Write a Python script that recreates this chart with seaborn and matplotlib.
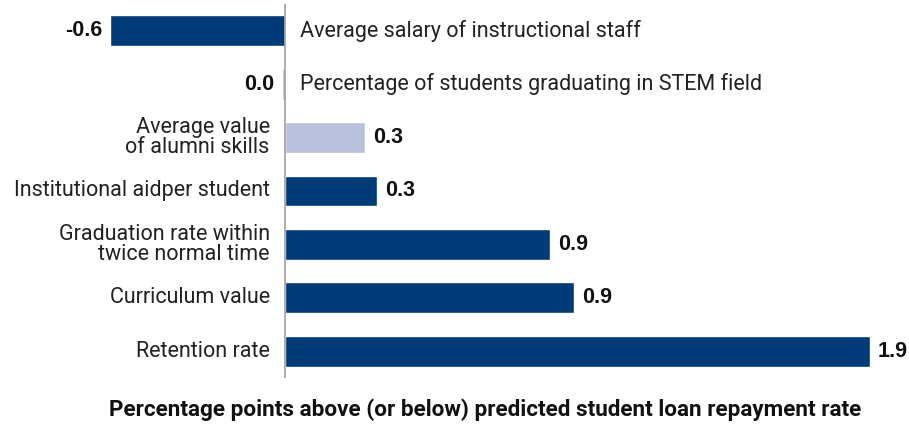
import matplotlib
matplotlib.use("Agg")
import matplotlib.pyplot as plt
import seaborn as sns
import pandas as pd

categories = [
    "Average salary of instructional staff",
    "Percentage of students graduating in STEM field",
    "Average value\nof alumni skills",
    "Institutional aidper student",
    "Graduation rate within\ntwice normal time",
    "Curriculum value",
    "Retention rate",
]
values = [-0.57, -0.01, 0.26, 0.30, 0.86, 0.94, 1.90]
value_labels = ["-0.6", "0.0", "0.3", "0.3", "0.9", "0.9", "1.9"]
bar_colors = ["#003b79", "#b9c1dc", "#b9c1dc", "#003b79", "#003b79", "#003b79", "#003b79"]

df = pd.DataFrame({"category": categories, "value": values})

sns.set_style("white")
plt.rcParams["font.family"] = ["Roboto", "DejaVu Sans"]

fig = plt.figure(figsize=(9.09, 4.25), dpi=100)
ax = fig.add_axes([0, 0.1106, 1, 0.88])

sns.barplot(data=df, x="value", y="category", hue="category",
            palette=bar_colors, legend=False, orient="h", width=0.58,
            saturation=1, ax=ax)

ax.set_xlim(-0.926, 2.027)
ax.set_ylim(6.5, -0.5)
ax.axvline(0, color="#a0a0a0", lw=1.2)

for i, (cat, v, lab) in enumerate(zip(categories, values, value_labels)):
    if v < 0:
        ax.text(0.05, i, cat, ha="left", va="center", fontsize=15.5, color="#222222")
        ax.text(v - 0.024, i, lab, ha="right", va="center", fontsize=15.5,
                fontweight="bold", family="Liberation Sans", color="#111111")
    else:
        ax.text(-0.05, i, cat, ha="right", va="center", fontsize=15.5,
                color="#222222", multialignment="right", linespacing=0.95)
        ax.text(v + 0.026, i, lab, ha="left", va="center", fontsize=15.5,
                fontweight="bold", family="Liberation Sans", color="#111111")

for s in ax.spines.values():
    s.set_visible(False)
ax.set_xticks([])
ax.set_yticks([])
ax.set_xlabel("")
ax.set_ylabel("")

fig.text(0.534, 0.035, "Percentage points above (or below) predicted student loan repayment rate",
         ha="center", va="center", fontsize=16.2, fontweight="bold", color="#111111")

fig.savefig("out.png", dpi=100)
